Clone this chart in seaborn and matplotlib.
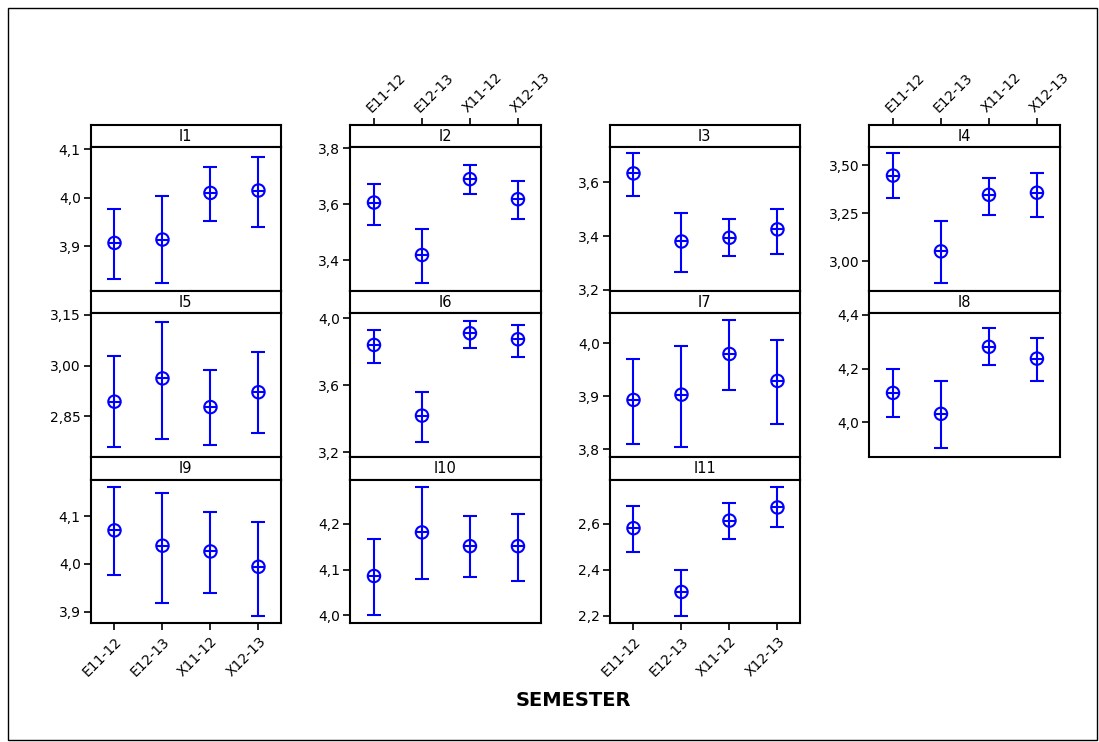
import numpy as np
import pandas as pd
import matplotlib
matplotlib.use("Agg")
import matplotlib.pyplot as plt
import seaborn as sns
from matplotlib.patches import Rectangle

# ---------------- data ----------------
semesters = ["E11-12", "E12-13", "X11-12", "X12-13"]
panel_names = ["I1", "I2", "I3", "I4", "I5", "I6", "I7", "I8", "I9", "I10", "I11"]

mean_I1 = [3.907, 3.914, 4.010, 4.015]
low_I1 = [3.833, 3.824, 3.952, 3.940]
high_I1 = [3.976, 4.003, 4.063, 4.083]

mean_I2 = [3.606, 3.418, 3.690, 3.618]
low_I2 = [3.525, 3.318, 3.637, 3.546]
high_I2 = [3.671, 3.511, 3.740, 3.684]

mean_I3 = [3.633, 3.380, 3.394, 3.425]
low_I3 = [3.549, 3.268, 3.326, 3.333]
high_I3 = [3.708, 3.484, 3.463, 3.499]

mean_I4 = [3.446, 3.052, 3.346, 3.357]
low_I4 = [3.330, 2.886, 3.240, 3.231]
high_I4 = [3.561, 3.208, 3.432, 3.460]

mean_I5 = [2.893, 2.962, 2.877, 2.921]
low_I5 = [2.759, 2.782, 2.765, 2.800]
high_I5 = [3.028, 3.129, 2.986, 3.039]

mean_I6 = [3.841, 3.419, 3.911, 3.875]
low_I6 = [3.732, 3.264, 3.825, 3.768]
high_I6 = [3.931, 3.562, 3.986, 3.962]

mean_I7 = [3.893, 3.903, 3.980, 3.929]
low_I7 = [3.810, 3.803, 3.912, 3.847]
high_I7 = [3.970, 3.996, 4.044, 4.007]

mean_I8 = [4.109, 4.031, 4.281, 4.237]
low_I8 = [4.020, 3.904, 4.214, 4.155]
high_I8 = [4.199, 4.155, 4.350, 4.314]

mean_I9 = [4.070, 4.038, 4.026, 3.994]
low_I9 = [3.976, 3.919, 3.940, 3.892]
high_I9 = [4.160, 4.148, 4.108, 4.088]

mean_I10 = [4.086, 4.181, 4.151, 4.151]
low_I10 = [4.000, 4.079, 4.083, 4.075]
high_I10 = [4.166, 4.280, 4.216, 4.221]

mean_I11 = [2.580, 2.303, 2.613, 2.670]
low_I11 = [2.475, 2.200, 2.533, 2.583]
high_I11 = [2.675, 2.400, 2.691, 2.759]

means = [mean_I1, mean_I2, mean_I3, mean_I4, mean_I5, mean_I6, mean_I7, mean_I8, mean_I9, mean_I10, mean_I11]
lows = [low_I1, low_I2, low_I3, low_I4, low_I5, low_I6, low_I7, low_I8, low_I9, low_I10, low_I11]
highs = [high_I1, high_I2, high_I3, high_I4, high_I5, high_I6, high_I7, high_I8, high_I9, high_I10, high_I11]

# y tick values per panel (and label decimals)
yticks_list = [
    [3.9, 4.0, 4.1], [3.4, 3.6, 3.8], [3.2, 3.4, 3.6], [3.00, 3.25, 3.50],
    [2.85, 3.00, 3.15], [3.2, 3.6, 4.0], [3.8, 3.9, 4.0], [4.0, 4.2, 4.4],
    [3.9, 4.0, 4.1], [4.0, 4.1, 4.2], [2.2, 2.4, 2.6],
]
ytick_decimals = [1, 1, 1, 2, 2, 1, 1, 1, 1, 1, 1]
x_title = "SEMESTER"

rows = []
for name, m, lo, hi in zip(panel_names, means, lows, highs):
    for s, a, b, c in zip(semesters, m, lo, hi):
        rows.append(dict(panel=name, semester=s, mean=a, lower=b, upper=c))
df = pd.DataFrame(rows)

# ---------------- layout ----------------
W, H = 1099, 742
sns.set_style("white")
plt.rcParams["font.family"] = ["DejaVu Sans"]
plt.rcParams["text.color"] = "black"
plt.rcParams["xtick.color"] = "black"
plt.rcParams["ytick.color"] = "black"
plt.rcParams["axes.labelcolor"] = "black"

fig = plt.figure(figsize=(W / 100, H / 100), dpi=100)
fig.patch.set_facecolor("white")

ylims = [
    (3.808, 4.104), (3.289, 3.804), (3.196, 3.730), (2.846, 3.593),
    (2.729, 3.155), (3.172, 4.030), (3.785, 4.057), (3.870, 4.406),
    (3.876, 4.176), (3.983, 4.296), (2.167, 2.791),
]
grid_pos = [(0, 0), (0, 1), (0, 2), (0, 3), (1, 0), (1, 1), (1, 2), (1, 3),
            (2, 0), (2, 1), (2, 2)]
col_left = [90.5, 350, 609.5, 869]
col_w = 190.5
row_top = [125, 291, 457.3]
strip_h = 22.3
plot_h = 143.7
top_labels = {"I2", "I4"}
bottom_labels = {"I9", "I11"}
BLUE = "#0000FF"
xlim = (-0.5, 3.47)
LW = 1.5

def fx(px):
    return px / W

def fy(py):
    return 1 - py / H

x = np.arange(len(semesters))
for i, name in enumerate(panel_names):
    r, c = grid_pos[i]
    left = col_left[c]
    top = row_top[r]
    # strip
    sax = fig.add_axes([fx(left), fy(top + strip_h), col_w / W, strip_h / H])
    sax.set_xlim(*xlim)
    sax.set_ylim(0, 1)
    sax.set_yticks([])
    sax.text(0.5, 0.5, name, transform=sax.transAxes, ha="center", va="center",
             fontsize=10.5, color="black")
    for sp in sax.spines.values():
        sp.set_linewidth(LW)
        sp.set_color("black")
    if name in top_labels:
        sax.xaxis.tick_top()
        sax.set_xticks(x)
        sax.set_xticklabels(semesters, rotation=45, ha="left", va="bottom",
                            rotation_mode="anchor", fontsize=10)
        sax.tick_params(axis="x", direction="out", length=5, width=1.2, pad=2)
    else:
        sax.set_xticks([])

    # plot
    ax = fig.add_axes([fx(left), fy(top + strip_h + plot_h), col_w / W, plot_h / H])
    d = df[df.panel == name]
    mv = d["mean"].values
    ax.errorbar(x, mv, yerr=[mv - d["lower"].values, d["upper"].values - mv],
                fmt="none", ecolor=BLUE, elinewidth=1.5, capsize=4.7, capthick=1.5, zorder=2)
    sns.scatterplot(x=x, y=mv, ax=ax, marker="o", s=80, legend=False, zorder=3)
    coll = ax.collections[-1]
    coll.set_facecolor("none")
    coll.set_edgecolor(BLUE)
    coll.set_linewidth(1.5)
    ax.plot(x, mv, ls="none", marker="_", ms=9, mew=1.5, color=BLUE, zorder=3)
    ax.set_xlim(*xlim)
    ax.set_ylim(*ylims[i])
    yt = yticks_list[i]
    ax.set_yticks(yt)
    ax.set_yticklabels([f"{v:.{ytick_decimals[i]}f}".replace(".", ",") for v in yt], fontsize=10)
    ax.tick_params(axis="y", direction="out", length=5, width=1.2, pad=2, left=True)
    if name in bottom_labels:
        ax.set_xticks(x)
        ax.set_xticklabels(semesters, rotation=45, ha="right", va="top",
                           rotation_mode="anchor", fontsize=10)
        ax.tick_params(axis="x", direction="out", length=5, width=1.2, pad=3, bottom=True)
    else:
        ax.set_xticks([])
    ax.set_xlabel("")
    ax.set_ylabel("")
    for sp in ax.spines.values():
        sp.set_linewidth(LW)
        sp.set_color("black")

fig.text(fx(573), fy(701), x_title, ha="center", va="center", fontsize=14,
         fontweight="bold", color="black")

# outer frame
fig.patches.append(Rectangle((fx(8), fy(740)), fx(1097) - fx(8), fy(8) - fy(740),
                             transform=fig.transFigure, fill=False, edgecolor="black",
                             linewidth=1.0))

fig.savefig("out.png", dpi=100, facecolor="white")
